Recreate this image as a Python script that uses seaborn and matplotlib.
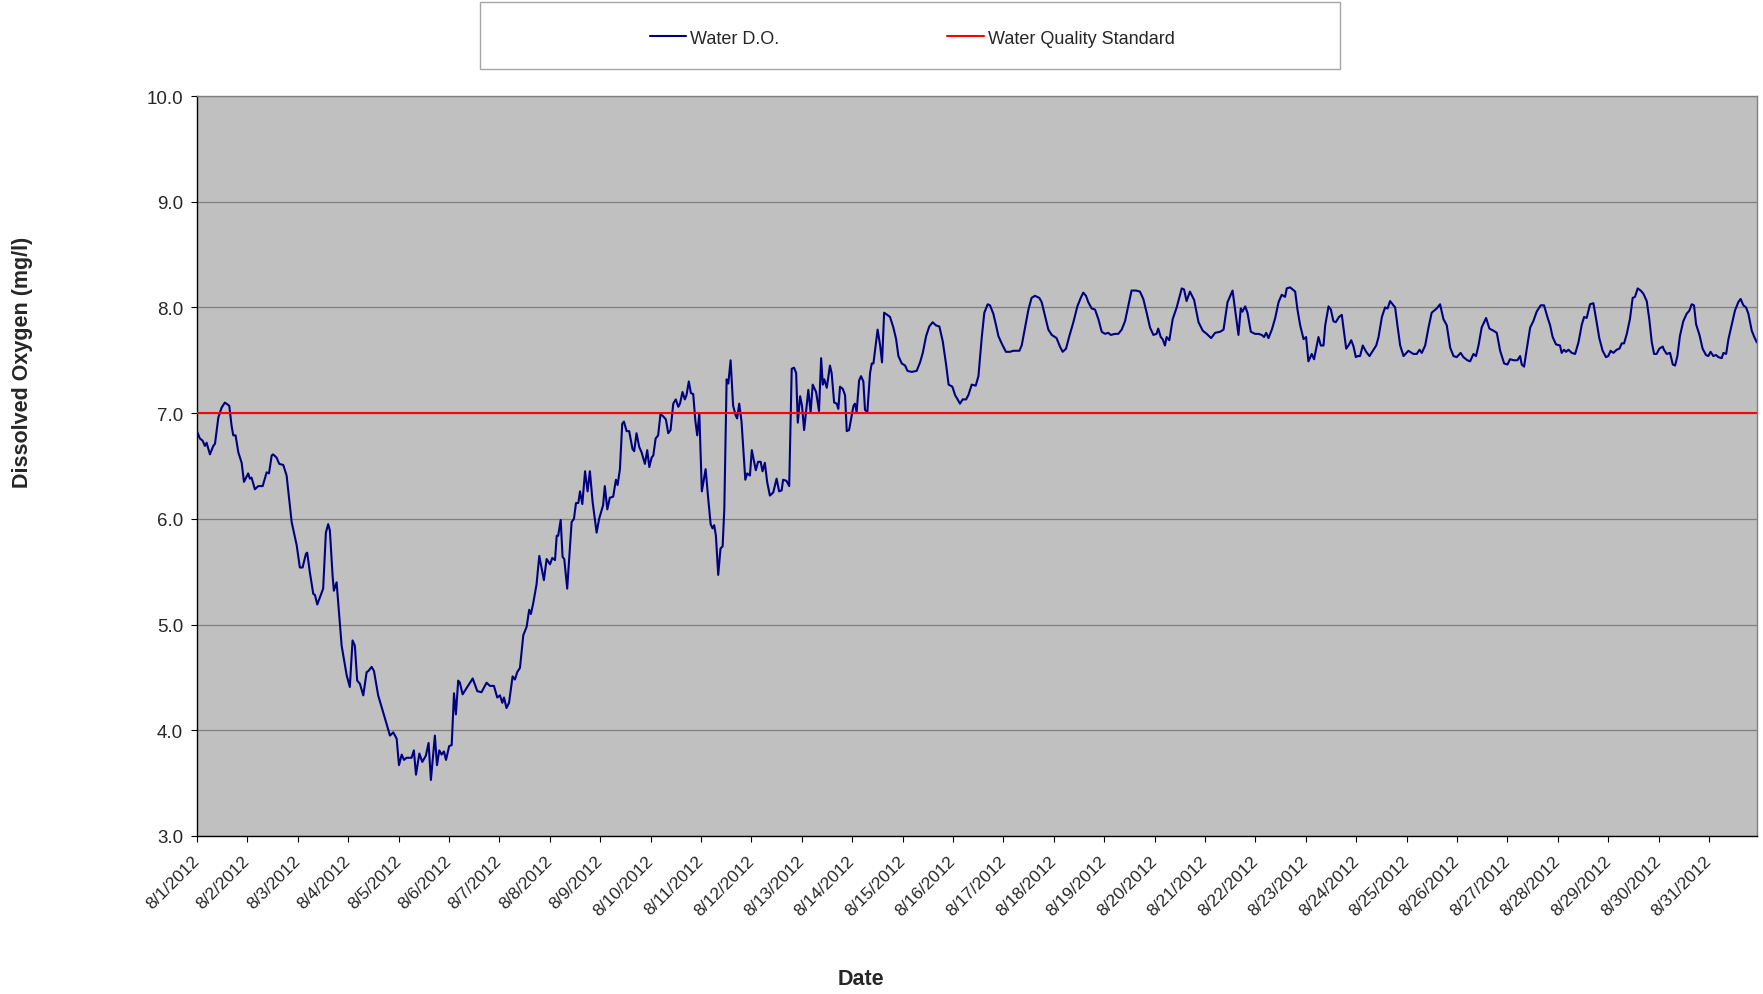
import matplotlib.pyplot as plt
from matplotlib.patches import Rectangle
import seaborn as sns

# Hours since 8/1/2012 00:00 and dissolved oxygen (mg/l)
HOURS = [
    0.0, 1.4, 2.7, 3.8, 4.6, 6.2, 7.8, 8.6, 10.2, 11.7, 13.3, 15.4, 16.5, 17.3, 18.4, 19.7, 21.3, 22.4,
    24.4, 25.2, 26.0, 27.6, 29.2, 31.3, 33.2, 34.3, 35.6, 36.3, 37.9, 39.2, 41.1, 42.7, 45.1, 47.5,
    49.0, 50.3, 51.9, 52.5, 53.8, 55.4, 56.2, 57.3, 60.1, 61.4, 62.5, 63.3, 64.6, 65.2, 66.5, 68.9, 71.3,
    72.8, 74.1, 75.2, 76.3, 77.6, 79.2, 80.8, 81.6, 83.2, 84.3, 86.3, 88.7, 90.3, 91.9,
    93.5, 95.1, 96.2, 97.5, 98.6, 99.8, 102.2, 103.3, 104.3, 105.9, 107.3, 109.0, 110.3, 111.4, 113.3,
    114.3, 115.4, 116.5, 117.6, 118.6, 120.1, 121.3, 122.4, 123.3, 124.4, 125.2, 126.5, 128.4, 131.3,
    133.5, 135.5, 137.9, 139.5, 141.4, 143.0, 144.3, 145.4, 146.2, 147.4, 148.6, 150.3, 151.4, 152.5,
    153.8, 155.4, 157.0, 158.2, 159.0, 160.1, 161.7, 163.0, 165.2, 166.5, 168.1, 169.2, 170.5, 171.3,
    172.0, 173.2, 174.1, 174.9, 176.3, 178.4, 179.5, 180.5, 181.6, 182.4, 183.5, 184.8, 186.0, 187.1,
    188.4, 190.3, 191.5, 193.4, 194.2, 195.4, 196.6, 198.2, 199.5, 200.3, 201.4, 202.5, 203.3, 204.6,
    205.8, 207.4, 208.2, 209.3, 210.6, 211.7, 213.3, 214.4, 215.4, 216.5, 217.3, 218.4, 219.6, 220.7,
    222.0, 223.3, 224.4, 225.5, 226.8, 228.0, 229.2, 230.0, 231.2, 232.3, 233.1, 234.2, 235.2, 236.3,
    237.3, 238.2, 239.2, 240.4, 242.2, 243.4, 244.6, 245.5, 246.3, 247.1, 248.2, 249.3, 250.3, 251.1,
    252.2, 253.0, 254.1, 255.3, 256.5, 257.2, 258.2, 259.3, 261.1, 262.0, 263.3, 264.2, 265.2, 266.1,
    267.2, 268.4, 269.3, 270.4, 271.5, 272.8, 274.4, 276.0, 277.2, 278.4, 279.1, 280.7, 282.0,
    283.2, 284.3, 285.3, 286.1, 287.2, 288.1, 289.1, 290.0, 291.1, 292.2, 293.2, 294.8, 296.2, 297.2,
    298.0, 298.7, 299.9, 301.4, 302.2, 303.4, 304.6, 305.4, 306.2, 307.5, 308.6, 309.4, 310.5, 312.6,
    313.3, 314.1, 315.3, 316.2, 317.3, 318.1, 319.2, 320.5, 321.3, 322.1, 324.1, 325.3, 326.2, 327.2,
    328.7, 330.0, 331.6, 332.9, 334.0, 335.6, 337.2, 338.3, 340.3, 342.7, 344.3, 345.6, 347.2, 348.7,
    350.3, 351.9, 353.5, 355.1, 356.7, 357.9, 359.7, 361.0, 362.2, 363.3, 364.6, 366.2, 367.3, 368.9,
    370.8, 372.1, 373.7, 374.9, 376.5,
    377.6, 379.2, 380.5, 381.6, 382.7, 383.9, 385.2, 387.1, 388.7, 391.6, 392.7, 394.3, 395.9, 397.4,
    399.0, 401.1, 402.2, 403.8, 405.4, 407.0, 409.3, 410.9, 412.2, 413.8, 415.4, 417.3, 419.2, 420.8,
    422.0, 423.3, 424.4, 426.0, 427.6, 429.2, 430.8, 432.4, 433.9, 435.1, 437.1, 438.7, 440.3, 441.9,
    443.5, 445.0, 447.1, 449.0, 450.6, 452.2, 453.8, 455.4, 456.9, 457.7, 458.9, 459.8, 460.9, 461.7,
    463.0, 464.6, 466.5, 467.7, 468.9, 470.0, 471.2, 472.8,
    474.8, 475.8, 476.9, 478.9, 480.8, 482.9, 484.8, 487.2, 488.8, 490.7, 493.1, 494.3, 495.9, 497.0,
    497.8, 499.1, 500.2, 501.8, 503.8, 505.4, 507.0, 508.1, 509.1, 510.2, 511.8, 513.4, 515.0, 516.5,
    518.1, 518.9, 520.5, 522.9, 524.0, 525.3, 526.9, 528.1, 529.2, 530.8, 531.9, 534.0, 535.1, 536.4,
    537.2, 538.8, 539.9, 541.1, 542.2, 543.8, 545.1, 547.2, 548.3, 549.6, 550.7, 551.8, 552.7, 553.8,
    555.1, 556.7, 558.3, 559.9, 561.5, 562.6, 564.2, 565.7, 566.9,
    568.1, 570.5, 571.6, 572.9, 574.5, 576.8, 579.2, 580.8, 582.1, 583.2, 584.8, 586.4, 587.9, 590.3,
    591.9, 593.5, 595.1, 596.7, 598.3, 599.8, 601.7, 603.0, 604.9, 606.2, 607.8, 609.0, 610.2, 611.7,
    613.8, 615.4, 617.3, 618.9, 620.5, 622.4, 624.0, 625.2, 627.1, 628.7, 630.0, 630.8, 631.9, 633.2,
    634.8, 636.3, 637.9, 639.8, 641.4, 643.0, 644.3, 645.5, 647.1, 649.0, 649.8, 650.9, 651.9, 653.0,
    654.6, 656.2, 657.8, 659.4, 660.5, 661.7,
    663.3, 664.9, 666.2, 667.7, 669.3, 670.9, 672.0, 673.1, 674.4, 676.0, 677.3, 678.4, 679.5, 680.8,
    682.3, 683.6, 684.7, 686.0, 687.4, 688.7, 690.3, 691.5, 692.7, 693.8, 695.0, 696.3, 697.9, 698.5,
    699.8, 701.4, 702.7, 703.8, 704.9, 706.1, 707.7, 709.3, 710.6, 711.7, 712.8, 713.8, 715.4, 716.9,
    718.5, 719.6, 720.7, 722.0, 723.3, 724.4, 726.0, 726.8, 728.1, 729.2, 730.8, 732.3, 733.9, 735.0,
    736.3, 737.6, 738.7, 740.3, 741.5, 742.7,
]
DO_VALUES = [
    6.83, 6.76, 6.74, 6.69, 6.72, 6.61, 6.69, 6.71, 6.96, 7.05, 7.10, 7.07, 6.88, 6.79, 6.79, 6.63, 6.53, 6.35,
    6.43, 6.38, 6.39, 6.28, 6.31, 6.31, 6.44, 6.43, 6.60, 6.61, 6.58, 6.52, 6.51, 6.41, 5.97, 5.75,
    5.54, 5.54, 5.67, 5.68, 5.49, 5.29, 5.28, 5.19, 5.34, 5.87, 5.95, 5.89, 5.46, 5.32, 5.40, 4.80, 4.52,
    4.41, 4.85, 4.80, 4.47, 4.44, 4.33, 4.55, 4.56, 4.60, 4.56, 4.33, 4.17, 4.06, 3.95,
    3.98, 3.92, 3.67, 3.77, 3.72, 3.74, 3.74, 3.81, 3.58, 3.78, 3.70, 3.76, 3.88, 3.53, 3.95,
    3.67, 3.81, 3.77, 3.80, 3.72, 3.85, 3.86, 4.35, 4.15, 4.47, 4.45, 4.34, 4.40, 4.49,
    4.37, 4.36, 4.45, 4.42, 4.42, 4.31, 4.33, 4.26, 4.31, 4.21, 4.26, 4.51, 4.48, 4.55,
    4.59, 4.90, 4.98, 5.14, 5.10, 5.20, 5.38, 5.65, 5.42, 5.62, 5.57, 5.63, 5.61, 5.84,
    5.84, 5.99, 5.64, 5.62, 5.34, 5.97, 6.00, 6.15, 6.15, 6.26, 6.14, 6.45, 6.26, 6.45,
    6.16, 5.87, 6.00, 6.13, 6.31, 6.09, 6.20, 6.21, 6.37, 6.32, 6.47, 6.90, 6.92, 6.83,
    6.83, 6.66, 6.64, 6.81, 6.68, 6.63, 6.52, 6.65, 6.49, 6.58, 6.60, 6.76, 6.79, 6.99,
    6.97, 6.94, 6.81, 6.84, 7.09, 7.13, 7.06, 7.09, 7.20, 7.13, 7.17, 7.30, 7.19, 7.18,
    6.93, 6.79, 7.00, 6.26, 6.47, 6.20, 5.95, 5.91, 5.94, 5.84, 5.47, 5.72, 5.74, 6.09,
    7.32, 7.28, 7.50, 7.07, 6.98, 6.95, 7.09, 6.92, 6.37, 6.43, 6.41, 6.65, 6.55, 6.46,
    6.54, 6.54, 6.45, 6.53, 6.35, 6.22, 6.25, 6.38, 6.26, 6.27, 6.37, 6.36, 6.31,
    7.42, 7.43, 7.38, 6.91, 7.16, 7.07, 6.84, 7.01, 7.22, 7.01, 7.27, 7.20, 7.02, 7.52,
    7.27, 7.32, 7.24, 7.45, 7.38, 7.10, 7.09, 7.04, 7.25, 7.23, 7.17, 6.83, 6.84, 7.07,
    7.09, 7.01, 7.31, 7.35, 7.30, 7.03, 7.01, 7.38, 7.47, 7.47, 7.79, 7.64, 7.48, 7.95,
    7.93, 7.91, 7.81, 7.70, 7.54, 7.47, 7.45, 7.40, 7.39, 7.40, 7.48, 7.57, 7.73, 7.82,
    7.86, 7.83, 7.82, 7.68, 7.46, 7.27, 7.25, 7.17, 7.13, 7.09, 7.13, 7.13, 7.17, 7.27,
    7.26, 7.35, 7.72, 7.95, 8.03,
    8.02, 7.94, 7.83, 7.73, 7.68, 7.63, 7.58, 7.58, 7.59, 7.59, 7.64, 7.81, 7.98, 8.09,
    8.11, 8.09, 8.05, 7.92, 7.79, 7.74, 7.71, 7.63, 7.58, 7.61, 7.73, 7.86, 8.01, 8.09,
    8.14, 8.11, 8.05, 7.99, 7.98, 7.89, 7.77, 7.75, 7.76, 7.74, 7.75, 7.75, 7.79, 7.87,
    8.02, 8.16, 8.16, 8.15, 8.08, 7.95, 7.81, 7.74, 7.75, 7.80, 7.72, 7.70, 7.64, 7.72,
    7.69, 7.89, 8.00, 8.09, 8.18, 8.17, 8.06, 8.15,
    8.07, 7.97, 7.86, 7.78, 7.75, 7.71, 7.76, 7.77, 7.79, 8.05, 8.16, 7.98, 7.74, 7.99,
    7.96, 8.01, 7.95, 7.77, 7.75, 7.75, 7.74, 7.72, 7.76, 7.71, 7.79, 7.90, 8.05, 8.12,
    8.10, 8.18, 8.19, 8.15, 7.98, 7.83, 7.70, 7.72, 7.49, 7.56, 7.51, 7.72, 7.64, 7.64,
    7.83, 8.01, 7.98, 7.87, 7.86, 7.91, 7.93, 7.61, 7.64, 7.69, 7.63, 7.53, 7.54, 7.54,
    7.64, 7.58, 7.54, 7.59, 7.64, 7.72, 7.91, 8.00, 7.99,
    8.06, 8.00, 7.83, 7.64, 7.54, 7.59, 7.56, 7.56, 7.60, 7.57, 7.64, 7.81, 7.95, 7.99,
    8.03, 7.89, 7.83, 7.62, 7.54, 7.53, 7.57, 7.53, 7.50, 7.49, 7.56, 7.54, 7.64, 7.81,
    7.90, 7.80, 7.78, 7.76, 7.59, 7.47, 7.46, 7.51, 7.50, 7.50, 7.54, 7.46, 7.44, 7.61,
    7.81, 7.87, 7.96, 8.02, 8.02, 7.91, 7.83, 7.72, 7.65, 7.64, 7.57, 7.60, 7.58, 7.60,
    7.57, 7.56, 7.67, 7.84, 7.91, 7.90,
    8.03, 8.04, 7.89, 7.71, 7.59, 7.53, 7.54, 7.59, 7.57, 7.60, 7.61, 7.66, 7.66, 7.75,
    7.89, 8.09, 8.10, 8.18, 8.16, 8.13, 8.06, 7.89, 7.67, 7.56, 7.56, 7.61, 7.63, 7.60,
    7.56, 7.57, 7.46, 7.45, 7.54, 7.73, 7.87, 7.94, 7.97, 8.03, 8.02, 7.84, 7.74, 7.61,
    7.55, 7.54, 7.58, 7.54, 7.55, 7.53, 7.52, 7.57, 7.56, 7.70, 7.84, 7.97, 8.05, 8.08,
    8.02, 8.00, 7.94, 7.78, 7.72, 7.67,
]
STANDARD = 7.0
TICK_LABELS = [f"8/{day}/2012" for day in range(1, 32)]
Y_TICKS = [3, 4, 5, 6, 7, 8, 9, 10]

sns.set_style("ticks")
plt.rcParams["font.family"] = ["Liberation Sans", "DejaVu Sans"]

fig = plt.figure(figsize=(17.63, 9.95), dpi=100)
ax = fig.add_axes([0.1117, 0.1588, 0.8849, 0.7437])
ax.set_facecolor("#C0C0C0")

days = [hour / 24 for hour in HOURS]
sns.lineplot(x=days, y=DO_VALUES, color="#000080", linewidth=1.5, estimator=None, sort=False,
             label="Water D.O.", ax=ax, zorder=3)
ax.axhline(STANDARD, color="#FF0000", linewidth=1.5, label="Water Quality Standard", zorder=4)

ax.set_xlim(0, 30.95)
ax.set_ylim(Y_TICKS[0], Y_TICKS[-1])
ax.set_xticks(range(len(TICK_LABELS)))
ax.set_xticklabels(TICK_LABELS, rotation=45, ha="right", va="center", rotation_mode="anchor")
ax.set_yticks(Y_TICKS)
ax.set_yticklabels([f"{v:.1f}" for v in Y_TICKS])
ax.tick_params(axis="both", direction="out", length=4, width=0.8, color="black")
ax.tick_params(axis="x", pad=12, labelsize=12.5)
ax.tick_params(axis="y", pad=6, labelsize=13.5)
ax.yaxis.grid(True, color="#808080", linewidth=0.9)
ax.xaxis.grid(False)
ax.set_axisbelow(True)
for side in ("left", "bottom"):
    ax.spines[side].set_color("black")
    ax.spines[side].set_linewidth(1.0)
for side in ("top", "right"):
    ax.spines[side].set_color("#808080")
    ax.spines[side].set_linewidth(1.0)

ax.set_xlabel("Date", fontsize=15.5, fontweight="bold", va="center")
ax.set_ylabel("Dissolved Oxygen (mg/l)", fontsize=15.5, fontweight="bold", va="center")
ax.xaxis.set_label_coords(0.4256, -0.192)
ax.yaxis.set_label_coords(-0.112, 0.642)

handles, labels = ax.get_legend_handles_labels()
ax.get_legend().remove()
fig.add_artist(Rectangle((0.2723, 0.930), 0.4878, 0.0666, transform=fig.transFigure,
                         facecolor="white", edgecolor="#A6A6A6", linewidth=1.0))
fig.legend(handles, labels, loc="center", bbox_to_anchor=(0.5175, 0.9605), ncol=2, frameon=False,
           fontsize=13, handlelength=2.0, handletextpad=0.25, columnspacing=9.3)

fig.savefig("out.png", dpi=100)
